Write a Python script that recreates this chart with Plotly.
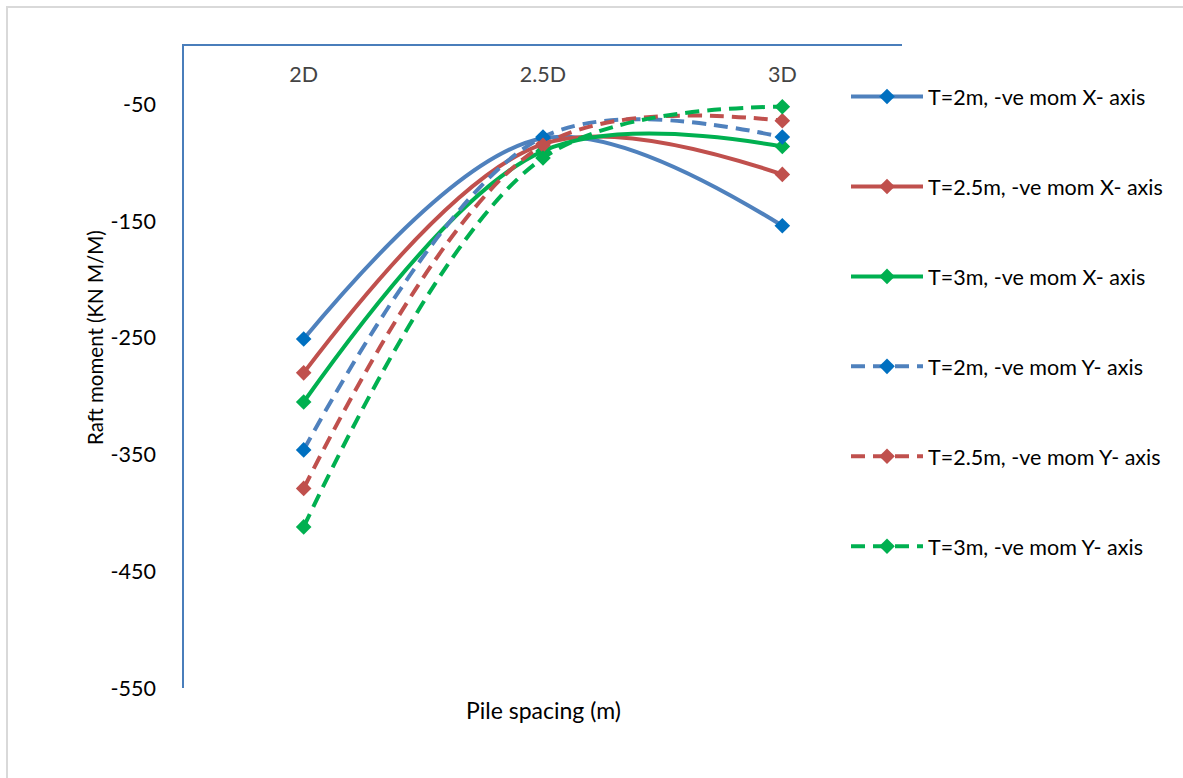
import plotly.graph_objects as go

categories = ["2D", "2.5D", "3D"]
series_names = [
    "T=2m, -ve mom X- axis",
    "T=2.5m, -ve mom X- axis",
    "T=3m, -ve mom X- axis",
    "T=2m, -ve mom Y- axis",
    "T=2.5m, -ve mom Y- axis",
    "T=3m, -ve mom Y- axis",
]
t2_x = [-251, -79, -154]
t25_x = [-280, -84, -110]
t3_x = [-305, -90, -86]
t2_y = [-346, -78, -78]
t25_y = [-379, -85, -64]
t3_y = [-412, -96, -52]
series_values = [t2_x, t25_x, t3_x, t2_y, t25_y, t3_y]

y_tick_vals = [-550, -450, -350, -250, -150, -50]
y_tick_text = ["-550", "-450", "-350", "-250", "-150", "-50"]

line_colors = ["#4F81BD", "#C0504D", "#00B050", "#4F81BD", "#C0504D", "#00B050"]
marker_colors = ["#0070C0", "#C0504D", "#00B050", "#0070C0", "#C0504D", "#00B050"]
dashes = ["solid", "solid", "solid", "14px,8px", "14px,8px", "14px,8px"]

FONT = "Lato"
FS = 21.5

fig = go.Figure()
for i, (name, vals) in enumerate(zip(series_names, series_values)):
    fig.add_trace(go.Scatter(
        x=categories, y=vals, name=name, mode="lines+markers",
        line=dict(color=line_colors[i], width=4, dash=dashes[i], shape="spline", smoothing=1),
        marker=dict(symbol="diamond", size=12, color=marker_colors[i]),
        legendgroup=f"g{i}",
    ))

W, H = 1183, 778
L, R, T, B = 184, 281, 46, 90
pw, ph = W - L - R, H - T - B

def px_x(p):
    return (p - L) / pw

def px_y(p):
    return (H - B - p) / ph

fig.update_layout(
    width=W, height=H,
    margin=dict(l=L, r=R, t=T, b=B),
    paper_bgcolor="white", plot_bgcolor="white",
    font=dict(family=FONT, size=FS, color="black"),
    showlegend=True,
    legend=dict(
        x=px_x(846), y=px_y(76), xanchor="left", yanchor="top",
        font=dict(family=FONT, size=FS), tracegroupgap=59,
        traceorder="grouped", bgcolor="rgba(0,0,0,0)", itemwidth=72,
    ),
    xaxis=dict(
        type="category", range=[-0.5, 2.5], side="top",
        showline=True, linecolor="#4A7EBB", linewidth=1.5,
        ticks="", showgrid=False, zeroline=False,
        ticklabelposition="inside", ticklabelstandoff=23,
        tickfont=dict(family=FONT, size=FS),
    ),
    yaxis=dict(
        range=[-550, 0], tickvals=y_tick_vals, ticktext=y_tick_text,
        showline=True, linecolor="#4A7EBB", linewidth=1.5,
        ticks="", showgrid=False, zeroline=False,
        ticklabelstandoff=22,
        tickfont=dict(family=FONT, size=FS),
    ),
    annotations=[
        dict(
            text="Pile spacing (m)", xref="paper", yref="paper",
            x=px_x(543), y=px_y(710), xanchor="center", yanchor="middle",
            showarrow=False, font=dict(family=FONT, size=23),
        ),
        dict(
            text="Raft moment (KN M/M)", xref="paper", yref="paper",
            x=px_x(95), y=px_y(338), xanchor="center", yanchor="middle",
            textangle=-90, showarrow=False, font=dict(family=FONT, size=20.5),
        ),
    ],
    shapes=[dict(
        type="rect", xref="paper", yref="paper",
        x0=px_x(7), x1=px_x(1195), y0=px_y(7), y1=px_y(800),
        line=dict(color="#D9D9D9", width=2), fillcolor="rgba(0,0,0,0)", layer="below",
    )],
)

fig.write_html("out.html")
